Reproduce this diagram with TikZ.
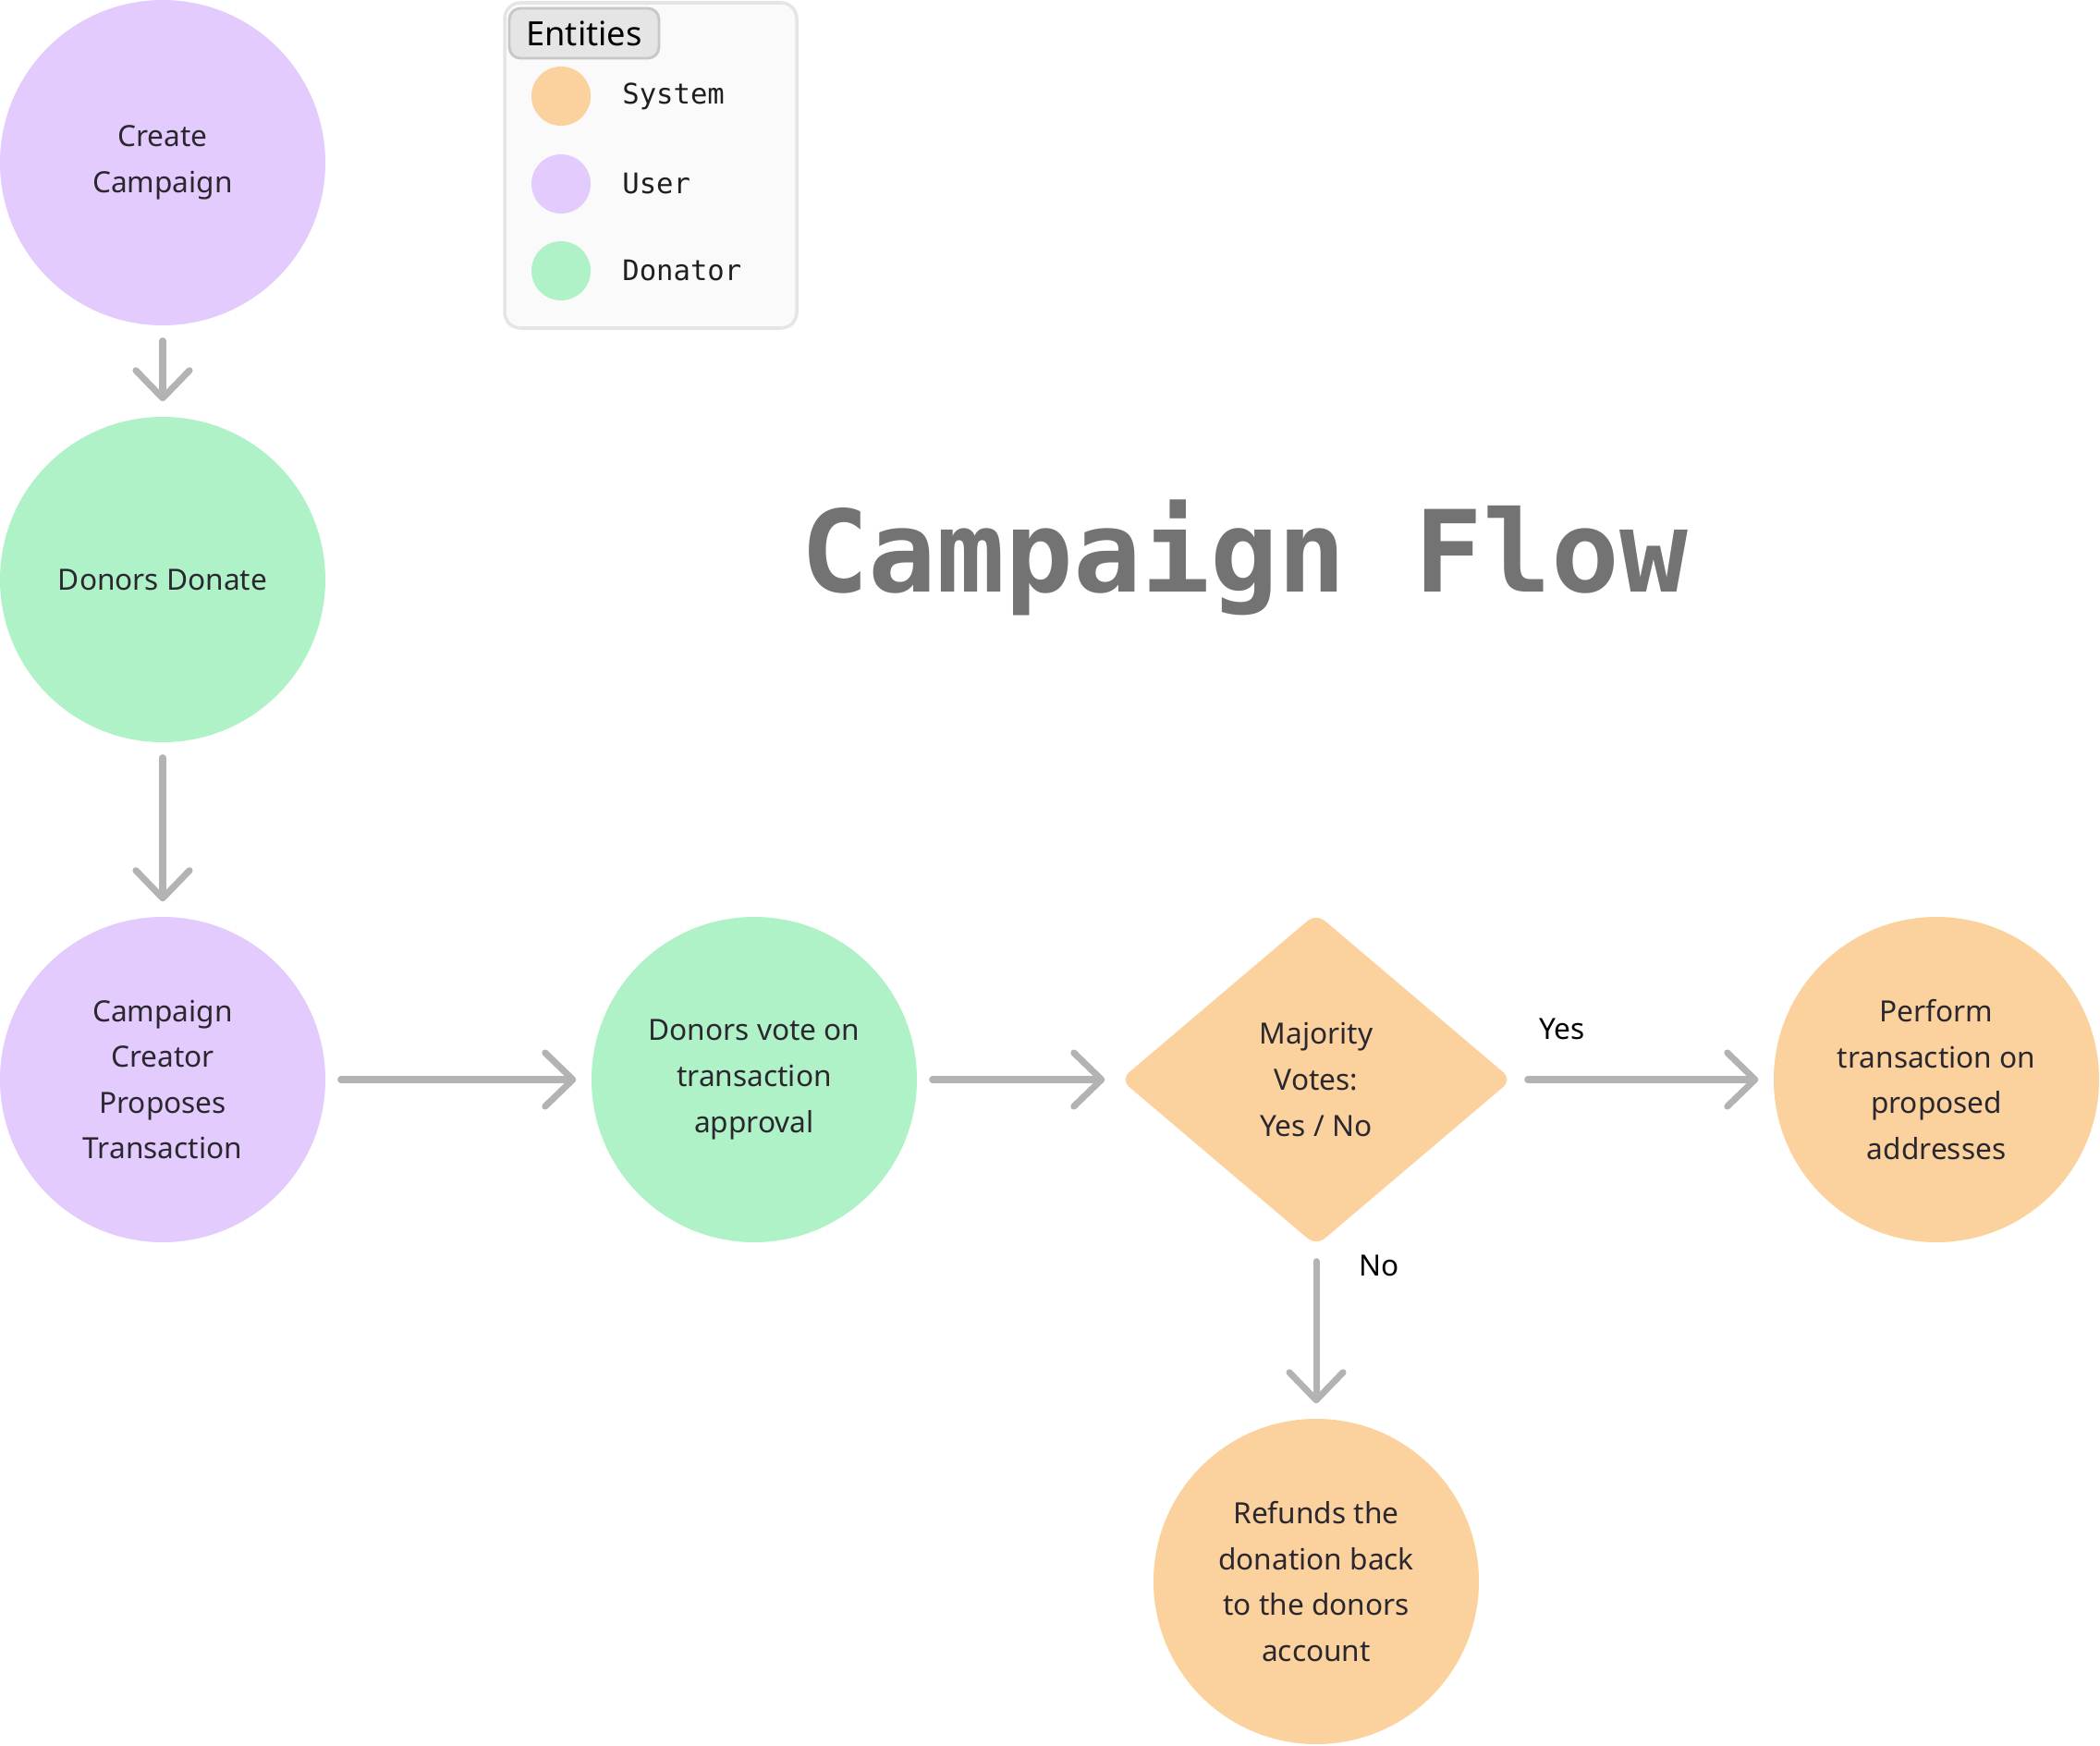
\documentclass[tikz,border=0pt]{standalone}
\usepackage{fontspec}
\setmainfont{Noto Sans}
\newfontfamily\monofont{DejaVu Sans Mono}
\usetikzlibrary{arrows.meta,shapes.geometric}

\definecolor{userpurple}{HTML}{E3CCFD}
\definecolor{donorgreen}{HTML}{B0F2C8}
\definecolor{sysorange}{HTML}{FBD29D}
\definecolor{arrowgray}{HTML}{B3B3B3}
\definecolor{titlegray}{HTML}{737373}
\definecolor{textdark}{HTML}{2A272E}

\tikzset{
    stage/.style={circle, minimum size=3.52cm, inner sep=0pt, align=center,
        text=textdark, font=\fontsize{9}{14.1}\selectfont},
    flow/.style={draw=arrowgray, line width=2pt, line cap=round,
        -{Straight Barb[length=0.3cm,width=0.58cm,round]},
        shorten <=0.16cm, shorten >=0.16cm},
    legdot/.style={circle, minimum size=0.64cm, inner sep=0pt},
    leglabel/.style={anchor=west, font=\monofont\fontsize{8.7}{10}\selectfont, text=black!88}
}

\begin{document}
\begin{tikzpicture}
    \useasboundingbox (0,0) rectangle (22.72,-18.88);

    % Legend
    \draw[draw=black!10, fill=black!2, line width=1pt, rounded corners=0.17cm]
        (5.46,-0.03) rectangle (8.62,-3.55);
    \node[draw=black!22, fill=black!10, line width=0.8pt, rounded corners=0.12cm,
        minimum width=1.62cm, minimum height=0.54cm, inner sep=0pt,
        font=\fontsize{10.3}{12}\selectfont] (entities) at (6.32,-0.36) {Entities};
    \node[legdot, fill=sysorange] (dotsys) at (6.07,-1.04) {};
    \node[legdot, fill=userpurple] (dotuser) at (6.07,-1.99) {};
    \node[legdot, fill=donorgreen] (dotdonor) at (6.07,-2.93) {};
    \node[leglabel] (labsys) at (6.61,-1.04) {System};
    \node[leglabel] (labuser) at (6.61,-1.99) {User};
    \node[leglabel] (labdonor) at (6.61,-2.93) {Donator};

    % Title
    \node[anchor=base, text=titlegray, font=\monofont\bfseries\fontsize{34.9}{40}\selectfont]
        (title) at (13.46,-6.40) {Campaign Flow};

    % Stages
    \node[stage, fill=userpurple] (create) at (1.76,-1.76) {Create\\Campaign};
    \node[stage, fill=donorgreen] (donate) at (1.76,-6.27) {Donors Donate};
    \node[stage, fill=userpurple] (propose) at (1.76,-11.68) {Campaign\\Creator\\Proposes\\Transaction};
    \node[stage, fill=donorgreen] (vote) at (8.16,-11.68) {Donors vote on\\transaction\\approval};
    \node[diamond, fill=sysorange, minimum width=4.24cm, minimum height=3.6cm, inner sep=0pt,
        rounded corners=0.12cm, align=center, text=textdark, font=\fontsize{9}{14.1}\selectfont]
        (majority) at (14.24,-11.68) {Majority\\Votes:\\Yes / No};
    \node[stage, fill=sysorange] (perform) at (20.95,-11.68) {Perform\\transaction on\\proposed\\addresses};
    \node[stage, fill=sysorange] (refund) at (14.24,-17.11) {Refunds the\\donation back\\to the donors\\account};

    % Connectors
    \draw[flow] (create) -- (donate);
    \draw[flow] (donate) -- (propose);
    \draw[flow] (propose) -- (vote);
    \draw[flow] (vote) -- (majority);
    \draw[flow] (majority) -- (perform);
    \draw[flow] (majority) -- (refund);

    \node[font=\fontsize{9}{11}\selectfont] (yes) at (16.90,-11.13) {Yes};
    \node[font=\fontsize{9}{11}\selectfont] (no) at (14.92,-13.69) {No};
\end{tikzpicture}
\end{document}
